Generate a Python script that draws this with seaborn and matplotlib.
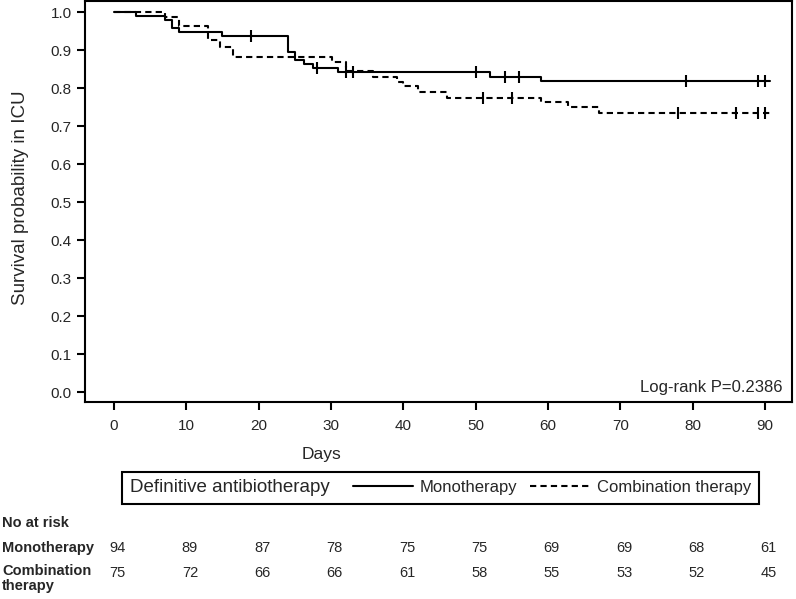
import numpy as np
import pandas as pd
import matplotlib
matplotlib.use("Agg")
import matplotlib.pyplot as plt
import matplotlib.transforms as mtransforms
from matplotlib.lines import Line2D
from matplotlib.offsetbox import HPacker
import seaborn as sns

# Kaplan-Meier step points (day, survival)
mono_days = [0, 3, 7, 8, 9, 15, 24, 25, 26.2, 27.5, 31, 52, 59, 90.6]
mono_surv = [1.0, 0.989, 0.979, 0.957, 0.947, 0.936, 0.894, 0.874, 0.864, 0.853, 0.843, 0.830, 0.818, 0.818]
comb_days = [0, 7, 9, 13, 14.7, 16.5, 30.1, 32, 35.8, 39.1, 40, 42, 46, 59, 62.8, 67, 90.6]
comb_surv = [1.0, 0.987, 0.964, 0.927, 0.907, 0.881, 0.868, 0.845, 0.830, 0.817, 0.805, 0.790, 0.775, 0.764, 0.750, 0.734, 0.734]

# censored observations (days)
mono_cens = [19, 28, 32, 33, 50, 54, 56, 79, 89, 90]
comb_cens = [51, 55, 78, 86, 89, 90]

# number at risk table
risk_days = [0, 10, 20, 30, 40, 50, 60, 70, 80, 90]
mono_risk = [94, 89, 87, 78, 75, 75, 69, 69, 68, 61]
comb_risk = [75, 72, 66, 66, 61, 58, 55, 53, 52, 45]

groups = ["Monotherapy", "Combination therapy"]

#%%
sns.set_style("ticks")
plt.rcParams["font.family"] = ["Liberation Sans", "DejaVu Sans"]

km = pd.concat([
    pd.DataFrame({"day": mono_days, "surv": mono_surv, "group": groups[0]}),
    pd.DataFrame({"day": comb_days, "surv": comb_surv, "group": groups[1]}),
])


def surv_at(days, surv, t):
    idx = np.searchsorted(days, t, side="right") - 1
    return np.asarray(surv)[idx]


cens = pd.concat([
    pd.DataFrame({"day": mono_cens, "surv": surv_at(mono_days, mono_surv, mono_cens), "group": groups[0]}),
    pd.DataFrame({"day": comb_cens, "surv": surv_at(comb_days, comb_surv, comb_cens), "group": groups[1]}),
])

fig = plt.figure(figsize=(7.96, 5.99), dpi=100)
ax = fig.add_axes([85 / 796, 1 - 402 / 599, 707 / 796, 401 / 599])

sns.lineplot(data=km, x="day", y="surv", style="group",
             dashes={groups[0]: "", groups[1]: (3, 2)},
             color="black", lw=1.5, drawstyle="steps-post",
             estimator=None, legend=False, ax=ax)
sns.scatterplot(data=cens, x="day", y="surv", marker="|", s=80,
                color="black", linewidth=1.5, legend=False, ax=ax)

ax.set_xlim(-4.0, 93.7)
ax.set_ylim(-0.026, 1.029)
ax.set_xticks(risk_days)
ax.set_yticks(np.arange(0, 1.01, 0.1))
ax.yaxis.set_major_formatter(matplotlib.ticker.FormatStrFormatter("%.1f"))
ax.tick_params(axis="both", labelsize=11, length=6, width=1.5, color="black")
ax.tick_params(axis="x", pad=6)
for sp in ax.spines.values():
    sp.set_visible(True)
    sp.set_linewidth(1.5)
    sp.set_color("black")

ax.set_xlabel("Days", fontsize=12.5)
ax.xaxis.set_label_coords(0.335, -0.112)
ax.set_ylabel("Survival probability in ICU", fontsize=13.5)
ax.yaxis.set_label_coords(-0.079, 0.51)

ax.text(0.987, 0.025, "Log-rank P=0.2386", transform=ax.transAxes,
        ha="right", va="baseline", fontsize=12)

# legend: title on the left of the entries, in one boxed row
handles = [Line2D([], [], color="black", lw=1.5),
           Line2D([], [], color="black", lw=1.5, ls=(0, (3, 2)))]
leg = fig.legend(handles=handles, labels=groups, title="Definitive antibiotherapy",
                 ncol=2, loc="center", bbox_to_anchor=(0.5534, 0.186),
                 fontsize=12, title_fontsize=13.5, frameon=True, fancybox=False,
                 framealpha=1, edgecolor="black", handlelength=3.6,
                 handletextpad=0.4, columnspacing=0.8, borderpad=0.45)
fs = leg._fontsize
leg._legend_box = HPacker(pad=leg.borderpad * fs, sep=1.4 * fs, align="center",
                          children=[leg._legend_title_box, leg._legend_handle_box])
leg._legend_box.set_figure(fig)
leg._legend_box.set_offset(leg._findoffset)
leg.get_frame().set_linewidth(1.5)

# number at risk table
trans = mtransforms.blended_transform_factory(ax.transData, fig.transFigure)
fig.text(2 / 796, 1 - 523 / 599, "No at risk", fontsize=10.5, fontweight="bold", va="center")
fig.text(2 / 796, 1 - 548 / 599, "Monotherapy", fontsize=10.5, fontweight="bold", va="center")
fig.text(2 / 796, 1 - 564 / 599, "Combination\ntherapy", fontsize=10.5, fontweight="bold",
         va="top", linespacing=1.1)
for d, m, c in zip(risk_days, mono_risk, comb_risk):
    ax.text(d + 0.5, 1 - 548 / 599, str(m), transform=trans, ha="center", va="center", fontsize=10.5)
    ax.text(d + 0.5, 1 - 573 / 599, str(c), transform=trans, ha="center", va="center", fontsize=10.5)

fig.savefig("out.png", dpi=100)
